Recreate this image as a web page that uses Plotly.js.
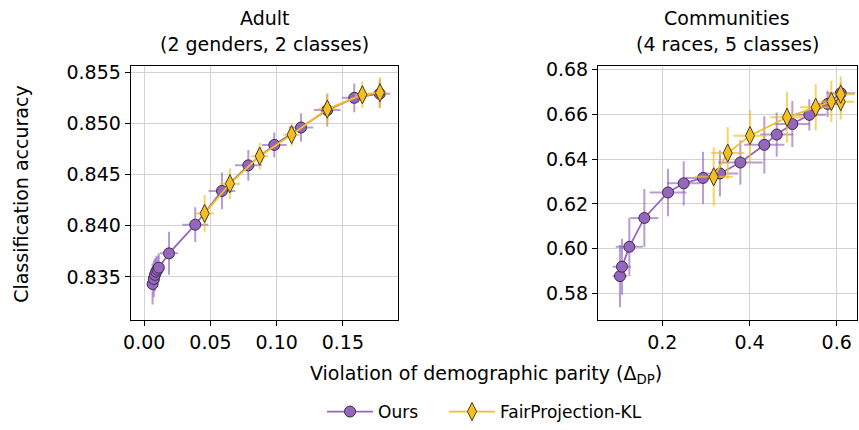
<!DOCTYPE html>
<html>
<head>
<meta charset="utf-8">
<script src="https://cdn.plot.ly/plotly-3.0.1.min.js"></script>
<style>html,body{margin:0;padding:0;background:#fff;}#chart{width:859px;height:430px;}</style>
</head>
<body>
<div id="chart"></div>
<script>
// ---- Adult (left panel) ----
const adultOursX   = [0.0063, 0.0072, 0.0081, 0.0090, 0.0100, 0.0110, 0.0187, 0.0385, 0.0587, 0.0786, 0.0982, 0.1184, 0.1382, 0.1586, 0.1778];
const adultOursY   = [0.8343, 0.8348, 0.8352, 0.8355, 0.8357, 0.8359, 0.8373, 0.8401, 0.8434, 0.8459, 0.8479, 0.8496, 0.8513, 0.8525, 0.8529];
const adultOursXErr = [0.0030, 0.0030, 0.0030, 0.0030, 0.0030, 0.0030, 0.0069, 0.0098, 0.0101, 0.0101, 0.0094, 0.0092, 0.0101, 0.0091, 0.0080];
const adultOursYErr = [0.0020, 0.0018, 0.0016, 0.0015, 0.0014, 0.0014, 0.0021, 0.0017, 0.0018, 0.0015, 0.0012, 0.0014, 0.0016, 0.0014, 0.0014];

const adultFpX   = [0.0456, 0.0647, 0.0872, 0.1113, 0.1382, 0.1647, 0.1780];
const adultFpY   = [0.8412, 0.8441, 0.8468, 0.8489, 0.8514, 0.8528, 0.8530];
const adultFpXErr = [0.0070, 0.0076, 0.0063, 0.0063, 0.0070, 0.0057, 0.0050];
const adultFpYErr = [0.0018, 0.0015, 0.0013, 0.0011, 0.0015, 0.0013, 0.0015];

// ---- Communities (right panel) ----
const commOursX   = [0.1030, 0.1076, 0.1244, 0.1588, 0.2131, 0.2491, 0.2934, 0.3323, 0.3790, 0.4340, 0.4624, 0.4982, 0.5372, 0.5790, 0.6095];
const commOursY   = [0.5877, 0.5919, 0.6008, 0.6137, 0.6251, 0.6292, 0.6316, 0.6336, 0.6385, 0.6464, 0.6510, 0.6557, 0.6598, 0.6647, 0.6695];
const commOursXErr = [0.017, 0.021, 0.031, 0.032, 0.042, 0.038, 0.040, 0.042, 0.051, 0.046, 0.038, 0.040, 0.038, 0.036, 0.033];
const commOursYErr = [0.0139, 0.0125, 0.0130, 0.0130, 0.0106, 0.0099, 0.0117, 0.0103, 0.0099, 0.0128, 0.0099, 0.0103, 0.0070, 0.0059, 0.0048];

const commFpX   = [0.3179, 0.3500, 0.4011, 0.4860, 0.5518, 0.5877, 0.6092, 0.6092];
const commFpY   = [0.6321, 0.6427, 0.6505, 0.6587, 0.6632, 0.6658, 0.6657, 0.6690];
const commFpXErr = [0.044, 0.038, 0.038, 0.038, 0.036, 0.027, 0.031, 0.031];
const commFpYErr = [0.0132, 0.0117, 0.0114, 0.0114, 0.0103, 0.0092, 0.0080, 0.0080];

// tick labels
const adultXTicks = [0.00, 0.05, 0.10, 0.15];
const adultYTicks = [0.835, 0.840, 0.845, 0.850, 0.855];
const commXTicks = [0.2, 0.4, 0.6];
const commYTicks = [0.58, 0.60, 0.62, 0.64, 0.66, 0.68];

const purple = '#9467bd';
const purpleErr = 'rgba(148,103,189,0.65)';
const purpleEdge = '#3b2a4c';
const gold = '#f3bf22';
const goldErr = 'rgba(243,191,34,0.7)';
const goldEdge = '#4d3c0c';

function oursTrace(x, y, ex, ey, xa, ya, show) {
  return {
    type: 'scatter', mode: 'lines+markers', name: 'Ours', legend: 'legend',
    x: x, y: y, xaxis: xa, yaxis: ya, showlegend: show, legendgroup: 'ours',
    line: {color: purple, width: 1.8},
    marker: {symbol: 'circle', size: 11, color: purple, line: {color: purpleEdge, width: 1}},
    error_x: {type: 'data', array: ex, visible: true, color: purpleErr, thickness: 2, width: 0},
    error_y: {type: 'data', array: ey, visible: true, color: purpleErr, thickness: 2, width: 0}
  };
}
function fpTrace(x, y, ex, ey, xa, ya, show) {
  return {
    type: 'scatter', mode: 'lines+markers', name: 'FairProjection-KL', legend: 'legend2',
    x: x, y: y, xaxis: xa, yaxis: ya, showlegend: show, legendgroup: 'fp',
    line: {color: gold, width: 1.8},
    marker: {symbol: 'diamond-tall', size: 13, color: gold, line: {color: goldEdge, width: 1}},
    error_x: {type: 'data', array: ex, visible: true, color: goldErr, thickness: 2, width: 0},
    error_y: {type: 'data', array: ey, visible: true, color: goldErr, thickness: 2, width: 0}
  };
}

const data = [
  oursTrace(adultOursX, adultOursY, adultOursXErr, adultOursYErr, 'x', 'y', true),
  fpTrace(adultFpX, adultFpY, adultFpXErr, adultFpYErr, 'x', 'y', true),
  oursTrace(commOursX, commOursY, commOursXErr, commOursYErr, 'x2', 'y2', false),
  fpTrace(commFpX, commFpY, commFpXErr, commFpYErr, 'x2', 'y2', false)
];

const font = {family: 'DejaVu Sans, sans-serif', size: 19, color: '#000'};
const legFont = {family: 'DejaVu Sans, sans-serif', size: 17, color: '#000'};
const axisCommon = {
  showgrid: true, gridcolor: '#d3d3d3', gridwidth: 1,
  showline: true, linecolor: '#000', linewidth: 1.3, mirror: true,
  ticks: 'outside', ticklen: 5, tickwidth: 1, tickcolor: '#000',
  zeroline: false, tickfont: font
};

const layout = {
  width: 859, height: 430,
  margin: {l: 0, r: 0, t: 0, b: 0},
  paper_bgcolor: '#fff', plot_bgcolor: '#fff',
  font: font,
  showlegend: true,
  legend: {orientation: 'h', x: 322/859, xanchor: 'left', y: 0.021, yanchor: 'middle', itemwidth: 46,
           font: legFont, bgcolor: 'rgba(0,0,0,0)'},
  legend2: {orientation: 'h', x: 444/859, xanchor: 'left', y: 0.021, yanchor: 'middle', itemwidth: 46,
           font: legFont, bgcolor: 'rgba(0,0,0,0)'},
  xaxis: Object.assign({}, axisCommon, {domain: [0.1525, 0.4633], range: [-0.010, 0.1916],
         tickvals: adultXTicks, tickformat: '.2f', anchor: 'y'}),
  yaxis: Object.assign({}, axisCommon, {domain: [0.2395, 0.843], range: [0.83077, 0.8556],
         tickvals: adultYTicks, tickformat: '.3f', anchor: 'x'}),
  xaxis2: Object.assign({}, axisCommon, {domain: [0.6965, 0.9977], range: [0.0532, 0.6466],
         tickvals: commXTicks, tickformat: '.1f', anchor: 'y2'}),
  yaxis2: Object.assign({}, axisCommon, {domain: [0.2395, 0.843], range: [0.5680, 0.6816],
         tickvals: commYTicks, tickformat: '.2f', anchor: 'x2'}),
  annotations: [
    {text: 'Adult', x: 0.308, y: 1 - 18/430, xref: 'paper', yref: 'paper', showarrow: false, xanchor: 'center', yanchor: 'middle', font: font},
    {text: '(2 genders, 2 classes)', x: 0.308, y: 1 - 45/430, xref: 'paper', yref: 'paper', showarrow: false, xanchor: 'center', yanchor: 'middle', font: font},
    {text: 'Communities', x: 0.8465, y: 1 - 18/430, xref: 'paper', yref: 'paper', showarrow: false, xanchor: 'center', yanchor: 'middle', font: font},
    {text: '(4 races, 5 classes)', x: 0.8465, y: 1 - 45/430, xref: 'paper', yref: 'paper', showarrow: false, xanchor: 'center', yanchor: 'middle', font: font},
    {text: 'Violation of demographic parity (Δ<sub>DP</sub>)', x: 486/859, y: 1 - 383/430, xref: 'paper', yref: 'paper', showarrow: false, xanchor: 'center', yanchor: 'middle', font: font},
    {text: 'Classification accuracy', x: 21/859, y: 1 - 199/430, xref: 'paper', yref: 'paper', showarrow: false, xanchor: 'center', yanchor: 'middle', textangle: -90, font: font}
  ]
};

Plotly.newPlot('chart', data, layout, {staticPlot: true, displayModeBar: false});
</script>
</body>
</html>
